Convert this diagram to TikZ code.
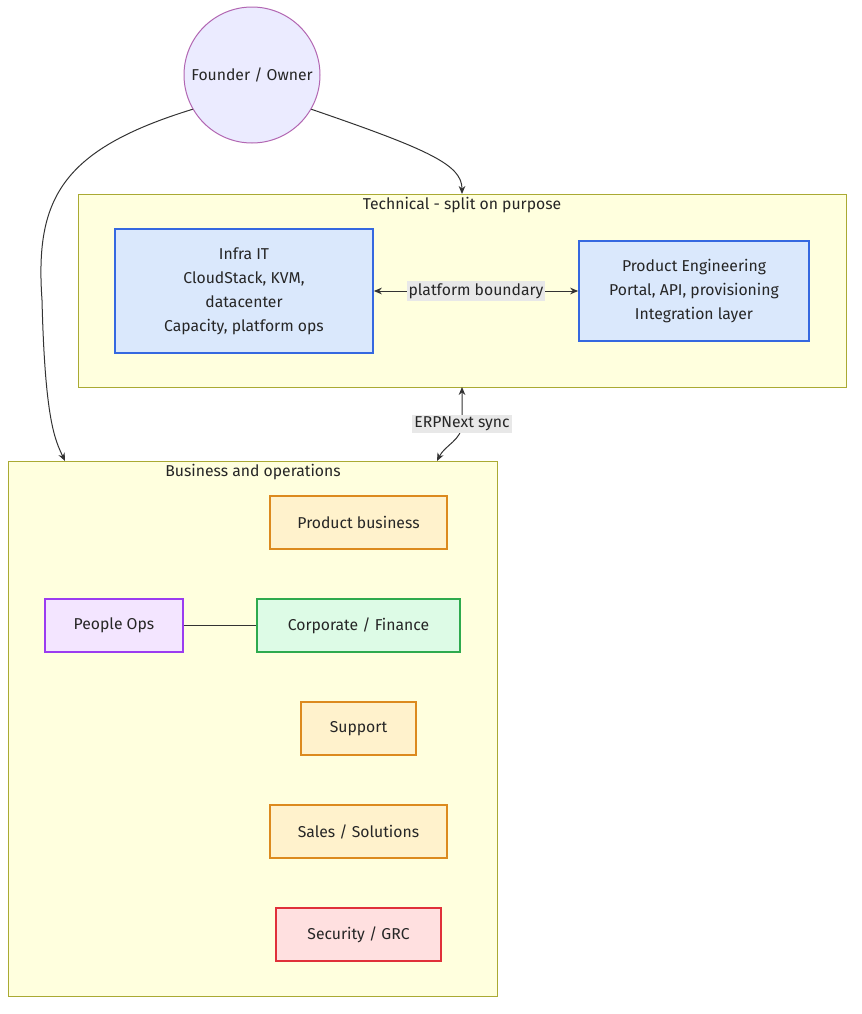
\documentclass[tikz,border=0pt]{standalone}
\usepackage{fontspec}
\setmainfont{Fira Sans}
\usetikzlibrary{arrows.meta}
\definecolor{clf}{HTML}{FFFFDE}\definecolor{cls}{HTML}{AAAA33}
\definecolor{blf}{HTML}{DAE8FC}\definecolor{bls}{HTML}{3568E0}
\definecolor{orf}{HTML}{FFF2CC}\definecolor{ors}{HTML}{DC8A1E}
\definecolor{puf}{HTML}{F3E5FF}\definecolor{pus}{HTML}{9B3CF0}
\definecolor{grf}{HTML}{DDFBE6}\definecolor{grs}{HTML}{2EAA4E}
\definecolor{ref}{HTML}{FFE0E0}\definecolor{res}{HTML}{E0303A}
\definecolor{edg}{HTML}{333333}
\tikzset{x=0.75pt,y=-0.75pt,
 every node/.style={font=\fontsize{11.8pt}{18pt}\selectfont,text=black!85},
 clus/.style={fill=clf,draw=cls,line width=0.75pt},
 box/.style={rectangle,line width=1.3pt,align=center,inner sep=0pt},
 blue/.style={box,fill=blf,draw=bls},
 ora/.style={box,fill=orf,draw=ors},
 arr/.style={draw=edg,line width=0.75pt,-{Stealth[length=6pt,width=5pt]}},
 lnk/.style={draw=edg,line width=0.75pt},
 lbl/.style={fill=black!9,inner sep=1.5pt}}
\begin{document}
\begin{tikzpicture}
\useasboundingbox (0,0) rectangle (862,1014);
\draw[clus] (78,194) rectangle (846,387);
\node at (462,205) {Technical - split on purpose};
\draw[clus] (8,461) rectangle (497,996);
\node at (253,472) {Business and operations};
\coordinate (techtop) at (462,194);
\coordinate (techbot) at (462,387);
\coordinate (bustopl) at (65,461);
\coordinate (bustopr) at (437,461);
\node[circle,fill=blue!8,draw=violet!60,line width=0.75pt,minimum size=136pt*0.75] (f) at (252,75) {Founder / Owner};
\node[blue,minimum width=258*0.75pt,minimum height=124*0.75pt] (infra) at (244,291) {Infra IT\\CloudStack, KVM,\\datacenter\\Capacity, platform ops};
\node[blue,minimum width=230*0.75pt,minimum height=100*0.75pt] (pe) at (694,291) {Product Engineering\\Portal, API, provisioning\\Integration layer};
\node[ora,minimum width=177*0.75pt,minimum height=53*0.75pt] (pb) at (358.5,522.5) {Product business};
\node[box,fill=puf,draw=pus,minimum width=138*0.75pt,minimum height=53*0.75pt] (po) at (114,625.5) {People Ops};
\node[box,fill=grf,draw=grs,minimum width=203*0.75pt,minimum height=53*0.75pt] (cf) at (358.5,625.5) {Corporate / Finance};
\node[ora,minimum width=115*0.75pt,minimum height=53*0.75pt] (su) at (358.5,728.5) {Support};
\node[ora,minimum width=177*0.75pt,minimum height=53*0.75pt] (ss) at (358.5,831.5) {Sales / Solutions};
\node[box,fill=ref,draw=res,minimum width=165*0.75pt,minimum height=53*0.75pt] (sg) at (358.5,934.5) {Security / GRC};
\draw[arr] (f.210) .. controls (60,150) and (35,200) .. (42,300) .. controls (45,420) and (55,440) .. (bustopl);
\draw[arr] (f.-30) .. controls (430,150) and (462,165) .. (techtop);
\draw[arr,{Stealth[length=6pt,width=5pt]}-{Stealth[length=6pt,width=5pt]}] (infra) -- node[lbl]{platform boundary} (pe);
\coordinate (erp) at (462,424);
\draw[arr,{Stealth[length=6pt,width=5pt]}-{Stealth[length=6pt,width=5pt]}] (techbot) -- (erp) .. controls (462,440) and (445,445) .. (bustopr);
\node[lbl] at (erp) {ERPNext sync};
\draw[lnk] (po) -- (cf);
\end{tikzpicture}
\end{document}
